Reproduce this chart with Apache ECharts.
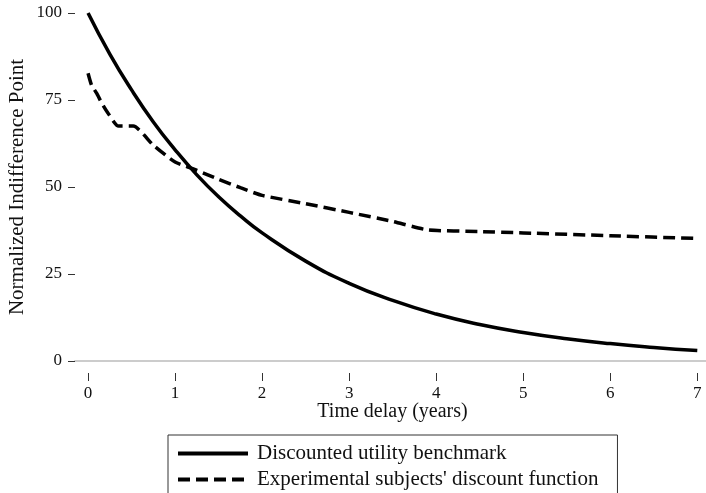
<!DOCTYPE html>
<html>
<head>
<meta charset="utf-8">
<script src="https://cdn.jsdelivr.net/npm/echarts@6/dist/echarts.min.js"></script>
<style>
  html, body { margin: 0; padding: 0; background: #fff; }
  #chart { width: 706px; height: 493px; }
</style>
</head>
<body>
<div id="chart"></div>
<script>
// Time delay in years and normalized indifference points
const benchmarkYears = [0, 0.25, 0.5, 0.75, 1, 1.25, 1.5, 1.75, 2, 2.5, 3, 3.5, 4, 4.5, 5, 5.5, 6, 6.5, 7];
const benchmarkValues = [100, 88.2, 77.9, 68.7, 60.7, 53.5, 47.2, 41.7, 36.8, 28.7, 22.3, 17.4, 13.5, 10.5, 8.2, 6.4, 5.0, 3.9, 3.0];

const subjectYears = [0, 0.04, 0.1, 0.16, 0.23, 0.35, 0.52, 0.75, 1.0, 1.25, 1.5, 1.75, 2.0, 2.5, 3.0, 3.5, 3.9, 4.5, 5, 6, 7];
const subjectValues = [82.7, 79.3, 76.9, 74.0, 71.2, 67.5, 67.5, 62.0, 57.2, 54.8, 52.2, 49.8, 47.6, 45.2, 42.7, 40.1, 37.7, 37.2, 36.8, 36.0, 35.2];

const xTicks = [0, 1, 2, 3, 4, 5, 6, 7];
const yTicks = [0, 25, 50, 75, 100];

const seriesNames = ['Discounted utility benchmark', "Experimental subjects' discount function"];
const xTitle = 'Time delay (years)';
const yTitle = 'Normalized Indifference Point';

const FONT = 'Liberation Serif';

function pairs(xs, ys) { return xs.map((x, i) => [x, ys[i]]); }

const chart = echarts.init(document.getElementById('chart'), null, { renderer: 'canvas' });

chart.setOption({
  animation: false,
  backgroundColor: '#ffffff',
  grid: { left: 75, right: 0, top: 13, bottom: 132, containLabel: false, outerBoundsMode: 'none' },
  xAxis: [
    {
      type: 'value', min: -0.15, max: 7.10,
      axisLine: { show: true, onZero: false, lineStyle: { color: '#cccccc', width: 2 } },
      axisTick: { show: false },
      axisLabel: { show: false },
      splitLine: { show: false }
    },
    {
      type: 'value', min: -0.15, max: 7.10, position: 'bottom', offset: 12,
      axisLine: { show: false, onZero: false },
      axisTick: { show: true, customValues: xTicks, length: 8, lineStyle: { color: '#333', width: 1 } },
      axisLabel: { show: true, customValues: xTicks, margin: 12, color: '#111',
                   fontFamily: FONT, fontSize: 17 },
      splitLine: { show: false },
      name: xTitle, nameLocation: 'middle', nameGap: 29, nameMoveOverlap: false,
      nameTextStyle: { fontFamily: FONT, fontSize: 20, color: '#111', padding: [0, 0, 0, 4] }
    }
  ],
  yAxis: {
    type: 'value', min: 0, max: 100, interval: 25,
    axisLine: { show: false, onZero: false },
    axisTick: { show: true, length: 7, lineStyle: { color: '#333', width: 1 } },
    axisLabel: { margin: 13, color: '#111', fontFamily: FONT, fontSize: 17,
                 customValues: yTicks },
    splitLine: { show: false },
    name: yTitle, nameLocation: 'middle', nameGap: 47, nameMoveOverlap: false,
    nameTextStyle: { fontFamily: FONT, fontSize: 21, color: '#111' }
  },
  legend: {
    orient: 'vertical', left: 168, top: 435, height: 120,
    itemWidth: 70, itemHeight: 16, itemGap: 5,
    padding: [8, 19, 20, 8],
    borderColor: '#333', borderWidth: 1,
    itemStyle: { opacity: 0 },
    lineStyle: { width: 4 },
    textStyle: { fontFamily: FONT, fontSize: 21, color: '#111', padding: [0, 0, 0, 4] },
    data: seriesNames
  },
  series: [
    {
      name: seriesNames[0], type: 'line', xAxisIndex: 0, smooth: true,
      showSymbol: false, symbol: 'none', clip: false,
      lineStyle: { color: '#000', width: 3.5 },
      itemStyle: { color: '#000' },
      data: pairs(benchmarkYears, benchmarkValues)
    },
    {
      name: seriesNames[1], type: 'line', xAxisIndex: 0, smooth: 0.2,
      showSymbol: false, symbol: 'none', clip: false,
      lineStyle: { color: '#000', width: 3.5, type: [12, 6] },
      itemStyle: { color: '#000' },
      data: pairs(subjectYears, subjectValues)
    }
  ]
});
</script>
</body>
</html>
